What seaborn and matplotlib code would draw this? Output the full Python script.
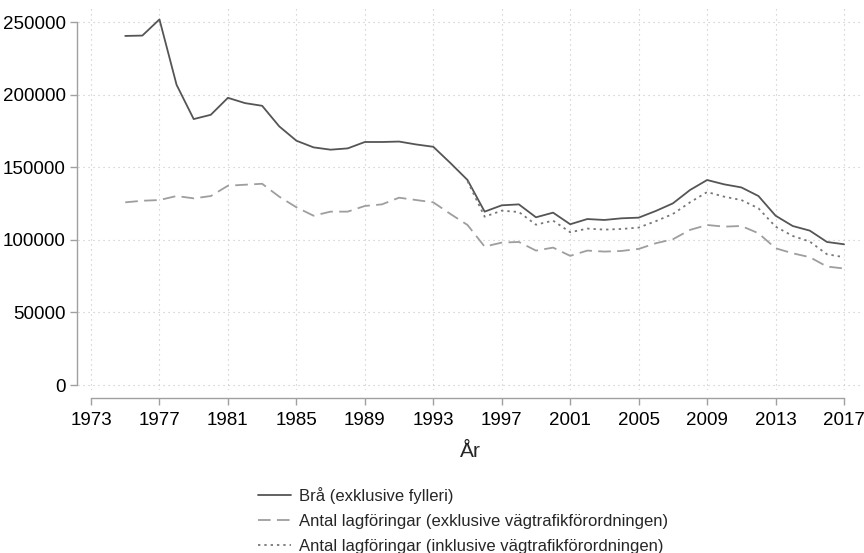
import numpy as np
import pandas as pd
import matplotlib
matplotlib.use("Agg")
import matplotlib.pyplot as plt
import seaborn as sns

# Brå (exklusive fylleri), 1975-2017
years_bra = list(range(1975, 2018))
bra = [240600, 240850, 252000, 206900, 183300, 186250, 197950, 194300, 192450, 178250,
       168400, 163800, 162200, 163100, 167500, 167500, 167800, 165800, 164200, 153000,
       141300, 119500, 123850, 124500, 115600, 118800, 110800, 114400, 113750, 114900,
       115350, 119950, 125200, 134400, 141300, 138300, 136200, 130250, 116700, 109600,
       106400, 98600, 97000]

# Antal lagföringar (exklusive vägtrafikförordningen), 1975-2017
years_exkl = list(range(1975, 2018))
exkl = [125900, 127000, 127500, 130250, 128650, 130250, 137350, 138050, 138700, 129800,
        122500, 116700, 119500, 119500, 123400, 124500, 129100, 127500, 125900, 117900,
        110300, 95400, 98150, 98600, 92650, 94700, 89000, 92650, 91950, 92400,
        93800, 97700, 100450, 106900, 110300, 109150, 109600, 104600, 94250, 90800,
        88100, 81650, 80300]

# Antal lagföringar (inklusive vägtrafikförordningen), 1995-2017
years_inkl = list(range(1995, 2018))
inkl = [140500, 116000, 120150, 119250, 110500, 113300, 105300, 107800, 107100, 107550,
        108500, 112900, 117900, 125900, 133000, 129800, 127500, 121800, 109150, 102750,
        98850, 90150, 88100]

xticks = list(range(1973, 2018, 4))
yticks = [0, 50000, 100000, 150000, 200000, 250000]

labels = ["Brå (exklusive fylleri)",
          "Antal lagföringar (exklusive vägtrafikförordningen)",
          "Antal lagföringar (inklusive vägtrafikförordningen)"]

sns.set_style("white")
plt.rcParams['font.family'] = ['Liberation Sans', 'DejaVu Sans']

fig = plt.figure(figsize=(8.64, 5.53), dpi=100)
ax = fig.add_axes([78 / 864, 1 - 390 / 553, (862 - 78) / 864, (390 - 8) / 553])

sns.lineplot(x=years_bra, y=bra, ax=ax, color="#555555", linewidth=1.3,
             label=labels[0])
sns.lineplot(x=years_exkl, y=exkl, ax=ax, color="#9e9e9e", linewidth=1.3,
             linestyle=(0, (7, 3.5)), label=labels[1])
sns.lineplot(x=years_inkl, y=inkl, ax=ax, color="#777777", linewidth=1.3,
             linestyle=(0, (1.3, 2.2)), label=labels[2])

ax.set_xlim(1972.24, 2018.05)
ax.set_ylim(-3446, 259860)
ax.set_xticks(xticks)
ax.set_yticks(yticks)
ax.set_xticklabels([str(t) for t in xticks])
ax.set_yticklabels([str(t) for t in yticks])

ax.grid(True, color="#c4c4c4", linestyle=(0, (1, 3.5)), linewidth=0.8)
ax.set_axisbelow(True)

for s in ["top", "right"]:
    ax.spines[s].set_visible(False)
ax.spines["left"].set_position(("outward", 1))
ax.spines["left"].set_bounds(0, 250000)
ax.spines["bottom"].set_position(("outward", 6))
ax.spines["bottom"].set_bounds(1973, 2017)
for s in ["left", "bottom"]:
    ax.spines[s].set_color("#a0a0a0")
    ax.spines[s].set_linewidth(1.0)
ax.tick_params(axis="both", which="both", direction="out", length=5, width=1.0,
               color="#a0a0a0", labelcolor="black", labelsize=13.5, pad=3,
               left=True, bottom=True)
ax.tick_params(axis="x", pad=5)

ax.set_xlabel("År", fontsize=15, labelpad=9)
ax.set_ylabel("")

handles, labs = ax.get_legend_handles_labels()
ax.get_legend().remove()
fig.legend(handles, labs, loc="upper left", bbox_to_anchor=(251 / 864, 1 - 480 / 553),
           frameon=False, fontsize=12, handlelength=2.0, handletextpad=0.5,
           labelspacing=0.6, borderaxespad=0)

fig.savefig("out.png", dpi=100)
